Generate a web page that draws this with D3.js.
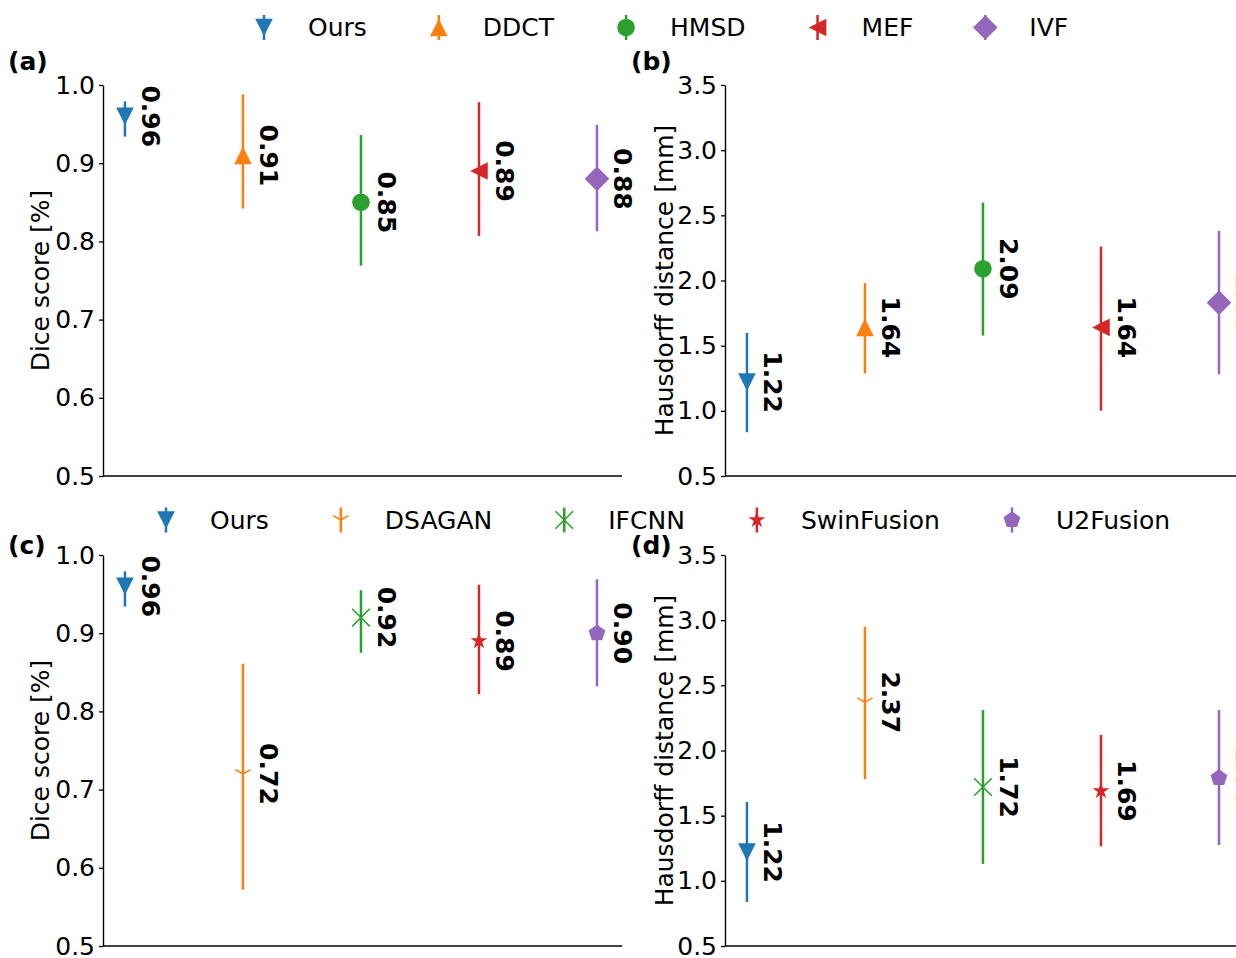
<!DOCTYPE html>
<html><head><meta charset="utf-8">
<script src="https://cdn.jsdelivr.net/npm/d3@7"></script>
<style>body{margin:0;background:#fff} svg{display:block} text{font-family:"DejaVu Sans",sans-serif}</style>
</head><body><svg id="c" width="1236" height="958"></svg>
<script>
// ---------- data ----------
const methodsTop = ["Ours", "DDCT", "HMSD", "MEF", "IVF"];
const methodsBottom = ["Ours", "DSAGAN", "IFCNN", "SwinFusion", "U2Fusion"];
const markersTop = ["v", "^", "o", "<", "D"];
const markersBottom = ["v", "1", "x", "*", "p"];
const colors = ["#1f77b4", "#ff7f0e", "#2ca02c", "#d62728", "#9467bd"];

const diceTopMean = [0.96, 0.91, 0.85, 0.89, 0.88];
const diceTopLow  = [0.934, 0.842, 0.769, 0.807, 0.813];
const diceTopHigh = [0.979, 0.988, 0.936, 0.978, 0.949];

const hdTopMean = [1.22, 1.64, 2.09, 1.64, 1.83];
const hdTopLow  = [0.836, 1.286, 1.577, 1.001, 1.28];
const hdTopHigh = [1.597, 1.98, 2.597, 2.26, 2.38];

const diceBotMean = [0.96, 0.72, 0.92, 0.89, 0.90];
const diceBotLow  = [0.934, 0.572, 0.875, 0.822, 0.832];
const diceBotHigh = [0.979, 0.861, 0.955, 0.962, 0.969];

const hdBotMean = [1.22, 2.37, 1.72, 1.69, 1.79];
const hdBotLow  = [0.838, 1.78, 1.13, 1.265, 1.275];
const hdBotHigh = [1.605, 2.95, 2.31, 2.12, 2.31];

const diceTicks = [0.5, 0.6, 0.7, 0.8, 0.9, 1.0];
const hdTicks = [0.5, 1.0, 1.5, 2.0, 2.5, 3.0, 3.5];
const diceLabel = "Dice score [%]";
const hdLabel = "Hausdorff distance [mm]";

// ---------- drawing ----------
const svg = d3.select("#c");
svg.append("rect").attr("width", 1236).attr("height", 958).attr("fill", "#fff");
const FS = 25;

function markerPath(type) {
  const r = 8.8;
  switch (type) {
    case "v": return `M0,${r}L${-r},${-r}L${r},${-r}Z`;
    case "^": return `M0,${-r}L${-r},${r}L${r},${r}Z`;
    case "<": return `M${-r},0L${r},${-r}L${r},${r}Z`;
    case "o": return d3.symbol(d3.symbolCircle, Math.PI * r * r)();
    case "D": { const d = 12.3; return `M0,${-d}L${d},0L0,${d}L${-d},0Z`; }
    case "p": {
      const pts = d3.range(5).map(i => { const a = -Math.PI / 2 + i * 2 * Math.PI / 5; return [r * Math.cos(a), r * Math.sin(a)]; });
      return "M" + pts.map(p => p.join(",")).join("L") + "Z";
    }
    case "*": {
      const inner = r * 0.381966;
      const pts = d3.range(10).map(i => { const a = -Math.PI / 2 + i * Math.PI / 5; const rr = i % 2 ? inner : r; return [rr * Math.cos(a), rr * Math.sin(a)]; });
      return "M" + pts.map(p => p.join(",")).join("L") + "Z";
    }
    case "x": { const h = r; return `M${-h},${-h}L${h},${h}M${-h},${h}L${h},${-h}`; }
    case "1": { const c = 0.866 * r, s = 0.5 * r; return `M0,0L0,${r}M0,0L${-c},${-s}M0,0L${c},${-s}`; }
  }
}
const lineMarkers = new Set(["x", "1"]);

function drawMarker(g, type, color, x, y) {
  const p = g.append("path").attr("d", markerPath(type)).attr("transform", `translate(${x},${y})`);
  if (lineMarkers.has(type)) p.attr("fill", "none").attr("stroke", color).attr("stroke-width", 1.5);
  else p.attr("fill", color).attr("stroke", "none");
}

function panel(opts) {
  const { left, right, top, bottom, yDomain, ticks, ylabel, ylabelX, mean, low, high, markers, letter, letterX, letterY } = opts;
  const g = svg.append("g");
  const x = d3.scaleLinear().domain([-0.186, 4.212]).range([left, right]);
  const y = d3.scaleLinear().domain(yDomain).range([bottom, top]);

  const yAxis = d3.axisLeft(y).tickValues(ticks).tickFormat(d3.format(".1f")).tickSizeOuter(0).tickSizeInner(4).tickPadding(4);
  const ga = g.append("g").attr("transform", `translate(${left},0)`).call(yAxis);
  ga.select(".domain").attr("stroke", "#000").attr("stroke-width", 1.4);
  ga.selectAll(".tick line").attr("stroke", "#000").attr("stroke-width", 1.3);
  ga.selectAll(".tick text").attr("font-size", FS).attr("fill", "#000").attr("font-family", "DejaVu Sans");

  g.append("line").attr("x1", left).attr("x2", right).attr("y1", bottom).attr("y2", bottom)
    .attr("stroke", "#000").attr("stroke-width", 1.5);

  g.append("text").attr("transform", `translate(${ylabelX},${(top + bottom) / 2}) rotate(-90)`)
    .attr("text-anchor", "middle").attr("font-size", FS).text(ylabel);

  g.append("text").attr("x", letterX).attr("y", letterY).attr("font-size", FS).attr("font-weight", "bold").text(letter);

  mean.forEach((m, i) => {
    const cx = x(i);
    g.append("line").attr("x1", cx).attr("x2", cx).attr("y1", y(low[i])).attr("y2", y(high[i]))
      .attr("stroke", colors[i]).attr("stroke-width", 2.5);
    drawMarker(g, markers[i], colors[i], cx, y(m));
    g.append("text").attr("transform", `translate(${cx + 17.5},${y(m)}) rotate(90)`)
      .attr("text-anchor", "middle").attr("font-size", FS).attr("font-weight", "bold").text(m.toFixed(2));
  });
}

function legend(names, markers, startX, cy) {
  const g = svg.append("g");
  let hx = startX;
  names.forEach((n, i) => {
    g.append("line").attr("x1", hx).attr("x2", hx).attr("y1", cy - 12.5).attr("y2", cy + 12.5)
      .attr("stroke", colors[i]).attr("stroke-width", 2.5);
    drawMarker(g, markers[i], colors[i], hx, cy);
    const t = g.append("text").attr("x", hx + 44).attr("y", cy).attr("dy", "0.35em").attr("font-size", FS).text(n);
    hx = hx + 44 + t.node().getComputedTextLength() + 72;
  });
}

panel({ left: 103, right: 622, top: 85, bottom: 476, yDomain: [0.5, 1.0], ticks: diceTicks, ylabel: diceLabel, ylabelX: 49,
  mean: diceTopMean, low: diceTopLow, high: diceTopHigh, markers: markersTop, letter: "(a)", letterX: 8, letterY: 70 });
panel({ left: 725, right: 1244, top: 85, bottom: 476, yDomain: [0.5, 3.5], ticks: hdTicks, ylabel: hdLabel, ylabelX: 673,
  mean: hdTopMean, low: hdTopLow, high: hdTopHigh, markers: markersTop, letter: "(b)", letterX: 631, letterY: 70 });
panel({ left: 103, right: 622, top: 555, bottom: 946, yDomain: [0.5, 1.0], ticks: diceTicks, ylabel: diceLabel, ylabelX: 49,
  mean: diceBotMean, low: diceBotLow, high: diceBotHigh, markers: markersBottom, letter: "(c)", letterX: 8, letterY: 554 });
panel({ left: 725, right: 1244, top: 555, bottom: 946, yDomain: [0.5, 3.5], ticks: hdTicks, ylabel: hdLabel, ylabelX: 673,
  mean: hdBotMean, low: hdBotLow, high: hdBotHigh, markers: markersBottom, letter: "(d)", letterX: 631, letterY: 554 });

legend(methodsTop, markersTop, 264, 27.5);
legend(methodsBottom, markersBottom, 166, 520);
</script></body></html>
